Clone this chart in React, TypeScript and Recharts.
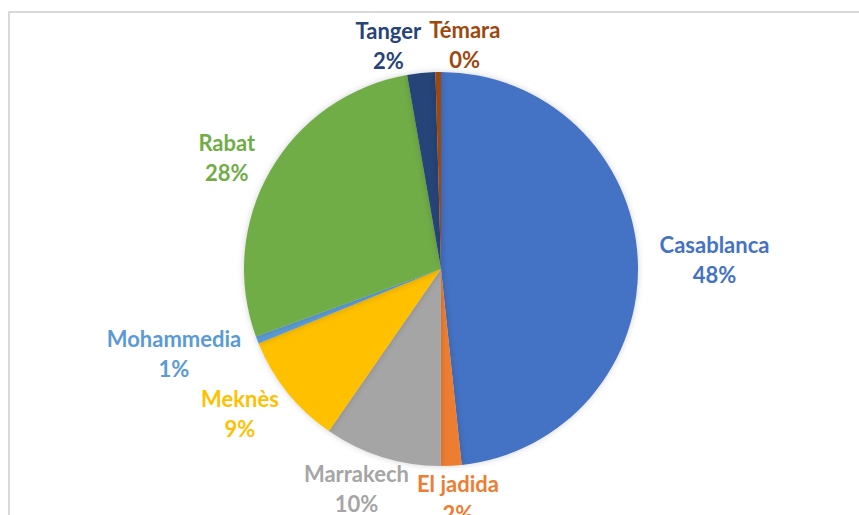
import React from 'react';
import { Cell, Pie, PieChart } from 'recharts';

const cities = ['Casablanca', 'El jadida', 'Marrakech', 'Meknès', 'Mohammedia', 'Rabat', 'Tanger', 'Témara'];
const shares = [48.3, 1.7, 9.6, 9.2, 0.6, 27.8, 2.3, 0.45];
const sliceColors = ['#4472C4', '#ED7D31', '#A5A5A5', '#FFC000', '#5B9BD5', '#70AD47', '#264478', '#9E480E'];

const data = cities.map((name, i) => ({ name, value: shares[i] }));

const W = 859;
const H = 515;
const CX = 441;
const CY = 269;
const R = 197;
const FONT = 'bold 22px Lato';
const LINE = 30;

function textWidth(s: string) {
  const ctx = document.createElement('canvas').getContext('2d');
  if (!ctx) return s.length * 11;
  ctx.font = FONT;
  return ctx.measureText(s).width;
}

// label boxes placed just outside the pie, then pushed apart sideways if they collide
function layoutLabels() {
  const total = shares.reduce((a, b) => a + b, 0);
  let acc = 0;
  const boxes = shares.map((v, i) => {
    const mid = ((acc + v / 2) / total) * 360;
    acc += v;
    const t = (mid * Math.PI) / 180;
    const s = Math.sin(t);
    const c = Math.cos(t);
    const tw = textWidth(cities[i]);
    const px = CX + (R + 8) * s;
    const py = CY - (R + 8) * c;
    return { x: px + (tw / 2 + 14) * s, y: py - 22 * c, w: tw + 8, h: 56 };
  });
  for (let k = 0; k < 5; k++) {
    for (let i = 0; i < boxes.length; i++) {
      for (let j = i + 1; j < boxes.length; j++) {
        const a = boxes[i];
        const b = boxes[j];
        const ox = (a.w + b.w) / 2 - Math.abs(a.x - b.x);
        const oy = (a.h + b.h) / 2 - Math.abs(a.y - b.y);
        if (ox > 0 && oy > 0) {
          const dir = a.x < b.x ? 1 : -1;
          a.x -= (dir * ox) / 2;
          b.x += (dir * ox) / 2;
        }
      }
    }
  }
  return boxes;
}

let boxes: { x: number; y: number; w: number; h: number }[] | null = null;

const renderLabel = (props: any) => {
  if (!boxes) boxes = layoutLabels();
  const b = boxes[props.index];
  const color = sliceColors[props.index];
  return (
    <text
      key={`lbl-${props.index}`}
      x={b.x}
      textAnchor="middle"
      fill={color}
      style={{ font: FONT }}
    >
      <tspan x={b.x} y={b.y - 4}>{cities[props.index]}</tspan>
      <tspan x={b.x} y={b.y + LINE - 4}>{`${Math.round(props.percent * 100)}%`}</tspan>
    </text>
  );
};

export default function App() {
  return (
    <div style={{ position: 'fixed', left: 0, top: 0, width: W, height: H, overflow: 'hidden', background: '#fff' }}>
      <style>{`.recharts-pie-sector path { filter: drop-shadow(0 0 3px rgba(0,0,0,0.18)); }`}</style>
      <div
        style={{
          position: 'absolute',
          left: 8,
          top: 11,
          width: 1000,
          height: 1000,
          border: '2px solid #d9d9d9',
        }}
      />
      <div style={{ position: 'absolute', left: 0, top: 0 }}>
        <PieChart width={W} height={H} margin={{ top: 0, right: 0, bottom: 0, left: 0 }}>
          <Pie
            data={data}
            dataKey="value"
            nameKey="name"
            cx={CX}
            cy={CY}
            outerRadius={R}
            startAngle={90}
            endAngle={-270}
            stroke="none"
            labelLine={false}
            label={renderLabel}
            isAnimationActive={false}
          >
            {data.map((d, i) => (
              <Cell key={d.name} fill={sliceColors[i]} />
            ))}
          </Pie>
        </PieChart>
      </div>
    </div>
  );
}
